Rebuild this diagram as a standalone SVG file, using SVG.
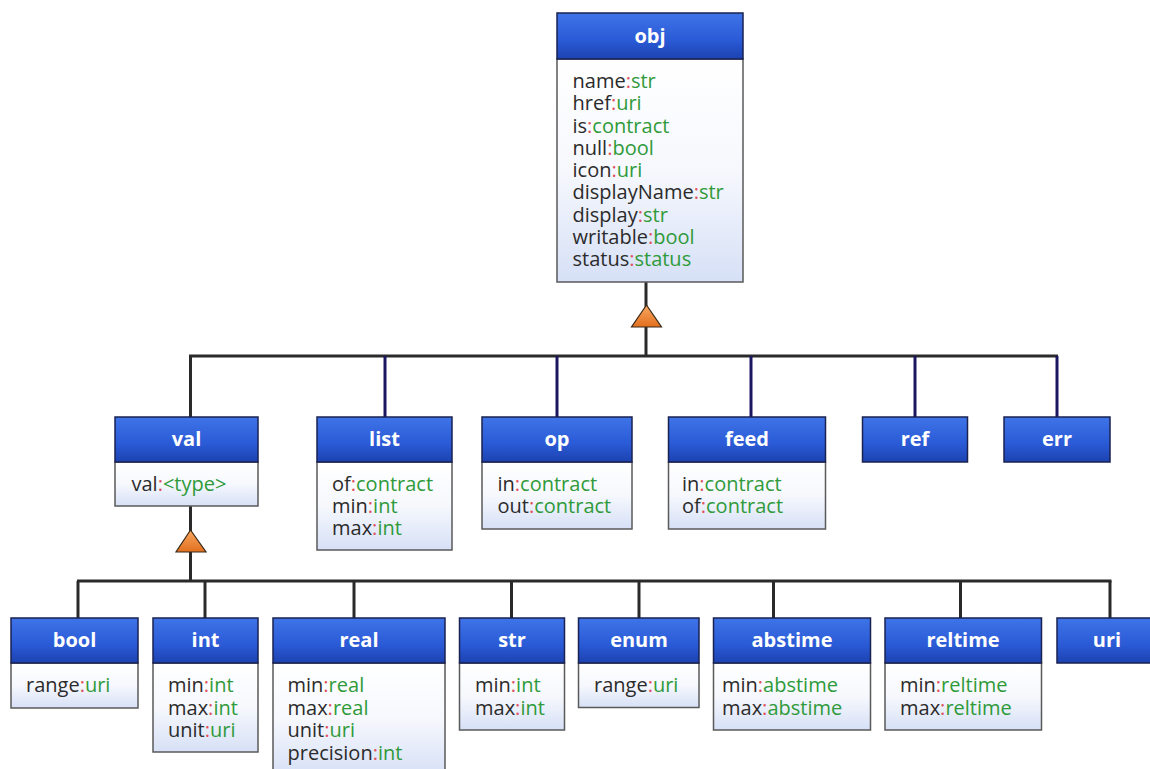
<svg xmlns="http://www.w3.org/2000/svg" width="1150" height="769" viewBox="0 0 1150 769">
<defs>
<linearGradient id="hg" x1="0" y1="0" x2="0" y2="1">
<stop offset="0" stop-color="#3f74e8"/>
<stop offset="0.6" stop-color="#2a5ad6"/>
<stop offset="1" stop-color="#1c42b0"/>
</linearGradient>
<linearGradient id="bg" x1="0" y1="0" x2="0" y2="1">
<stop offset="0" stop-color="#ffffff"/>
<stop offset="0.5" stop-color="#f6f8fd"/>
<stop offset="1" stop-color="#d6e0f6"/>
</linearGradient>
<linearGradient id="tg" x1="0" y1="0" x2="0" y2="1">
<stop offset="0" stop-color="#f9a860"/>
<stop offset="1" stop-color="#e26f1e"/>
</linearGradient>
</defs>
<style>
.hd{fill:url(#hg);stroke:#1a2250;stroke-width:1.5}
.bd{fill:url(#bg);stroke:#5a5a5a;stroke-width:1.5}
.ht{font-family:"Open Sans","DejaVu Sans",sans-serif;font-weight:bold;font-size:20px;fill:#ffffff;text-anchor:middle}
.t{font-family:"Open Sans","DejaVu Sans",sans-serif;font-size:20px;fill:#2b2b2b}
.c{fill:#e0505a}
.g{fill:#2f9a3a}
.ln{stroke:#2a2a2a;stroke-width:3;fill:none}
.nv{stroke:#1c1660;stroke-width:3;fill:none}
.tri{fill:url(#tg);stroke:#3a2a1a;stroke-width:1.2}
</style>
<rect width="1150" height="769" fill="#ffffff"/>

<g id="connectors">
<line class="ln" x1="646" y1="282" x2="646" y2="356"/>
<line class="ln" x1="189" y1="356" x2="1058" y2="356"/>
<line class="ln" x1="190.5" y1="356" x2="190.5" y2="417"/>
<line class="nv" x1="385" y1="356" x2="385" y2="417"/>
<line class="nv" x1="557" y1="356" x2="557" y2="417"/>
<line class="nv" x1="751" y1="356" x2="751" y2="417"/>
<line class="nv" x1="915" y1="356" x2="915" y2="417"/>
<line class="nv" x1="1057" y1="356" x2="1057" y2="417"/>
<polygon class="tri" points="646.5,305 631.5,327 661.5,327"/>
<line class="ln" x1="190.5" y1="506" x2="190.5" y2="581"/>
<line class="ln" x1="77" y1="581" x2="1111.5" y2="581"/>
<line class="ln" x1="78" y1="581" x2="78" y2="618"/>
<line class="ln" x1="205" y1="581" x2="205" y2="618"/>
<line class="ln" x1="354" y1="581" x2="354" y2="618"/>
<line class="ln" x1="511.5" y1="581" x2="511.5" y2="618"/>
<line class="ln" x1="639" y1="581" x2="639" y2="618"/>
<line class="ln" x1="773.5" y1="581" x2="773.5" y2="618"/>
<line class="ln" x1="960.5" y1="581" x2="960.5" y2="618"/>
<line class="ln" x1="1110" y1="581" x2="1110" y2="618"/>
<polygon class="tri" points="190.5,530 176,552 206,552"/>
</g>

<g id="obj">
<rect class="bd" x="557" y="59" width="186" height="223"/>
<rect class="hd" x="557" y="13" width="186" height="46"/>
<text class="ht" x="650" y="43">obj</text>
<text class="t" x="572.5" y="88">name<tspan class="c">:</tspan><tspan class="g">str</tspan></text>
<text class="t" x="572.5" y="110.25">href<tspan class="c">:</tspan><tspan class="g">uri</tspan></text>
<text class="t" x="572.5" y="132.5">is<tspan class="c">:</tspan><tspan class="g">contract</tspan></text>
<text class="t" x="572.5" y="154.75">null<tspan class="c">:</tspan><tspan class="g">bool</tspan></text>
<text class="t" x="572.5" y="177">icon<tspan class="c">:</tspan><tspan class="g">uri</tspan></text>
<text class="t" x="572.5" y="199.25">displayName<tspan class="c">:</tspan><tspan class="g">str</tspan></text>
<text class="t" x="572.5" y="221.5">display<tspan class="c">:</tspan><tspan class="g">str</tspan></text>
<text class="t" x="572.5" y="243.75">writable<tspan class="c">:</tspan><tspan class="g">bool</tspan></text>
<text class="t" x="572.5" y="266">status<tspan class="c">:</tspan><tspan class="g">status</tspan></text>
</g>

<g id="val">
<rect class="bd" x="115" y="462" width="143" height="44"/>
<rect class="hd" x="115" y="417" width="143" height="45"/>
<text class="ht" x="186.5" y="446">val</text>
<text class="t" x="131.5" y="491">val<tspan class="c">:</tspan><tspan class="g">&lt;type&gt;</tspan></text>
</g>

<g id="list">
<rect class="bd" x="317" y="462" width="135" height="88"/>
<rect class="hd" x="317" y="417" width="135" height="45"/>
<text class="ht" x="384.5" y="446">list</text>
<text class="t" x="332" y="491">of<tspan class="c">:</tspan><tspan class="g">contract</tspan></text>
<text class="t" x="332" y="513">min<tspan class="c">:</tspan><tspan class="g">int</tspan></text>
<text class="t" x="332" y="535">max<tspan class="c">:</tspan><tspan class="g">int</tspan></text>
</g>

<g id="op">
<rect class="bd" x="482" y="462" width="150" height="67"/>
<rect class="hd" x="482" y="417" width="150" height="45"/>
<text class="ht" x="557" y="446">op</text>
<text class="t" x="497.5" y="491">in<tspan class="c">:</tspan><tspan class="g">contract</tspan></text>
<text class="t" x="497.5" y="513">out<tspan class="c">:</tspan><tspan class="g">contract</tspan></text>
</g>

<g id="feed">
<rect class="bd" x="668.5" y="462" width="157" height="67"/>
<rect class="hd" x="668.5" y="417" width="157" height="45"/>
<text class="ht" x="747" y="446">feed</text>
<text class="t" x="682" y="491">in<tspan class="c">:</tspan><tspan class="g">contract</tspan></text>
<text class="t" x="682" y="513">of<tspan class="c">:</tspan><tspan class="g">contract</tspan></text>
</g>

<g id="ref">
<rect class="hd" x="862.5" y="417" width="105" height="45"/>
<text class="ht" x="915" y="446">ref</text>
</g>

<g id="err">
<rect class="hd" x="1004" y="417" width="106" height="45"/>
<text class="ht" x="1057" y="446">err</text>
</g>

<g id="bool">
<rect class="bd" x="11" y="663" width="127" height="45"/>
<rect class="hd" x="11" y="618" width="127" height="45"/>
<text class="ht" x="74.5" y="647">bool</text>
<text class="t" x="26" y="692">range<tspan class="c">:</tspan><tspan class="g">uri</tspan></text>
</g>

<g id="int">
<rect class="bd" x="153" y="663" width="105" height="89"/>
<rect class="hd" x="153" y="618" width="105" height="45"/>
<text class="ht" x="205.5" y="647">int</text>
<text class="t" x="168" y="692">min<tspan class="c">:</tspan><tspan class="g">int</tspan></text>
<text class="t" x="168" y="714.5">max<tspan class="c">:</tspan><tspan class="g">int</tspan></text>
<text class="t" x="168" y="737">unit<tspan class="c">:</tspan><tspan class="g">uri</tspan></text>
</g>

<g id="real">
<rect class="bd" x="273" y="663" width="172" height="112"/>
<rect class="hd" x="273" y="618" width="172" height="45"/>
<text class="ht" x="359" y="647">real</text>
<text class="t" x="287.5" y="692">min<tspan class="c">:</tspan><tspan class="g">real</tspan></text>
<text class="t" x="287.5" y="714.5">max<tspan class="c">:</tspan><tspan class="g">real</tspan></text>
<text class="t" x="287.5" y="737">unit<tspan class="c">:</tspan><tspan class="g">uri</tspan></text>
<text class="t" x="287.5" y="759.5">precision<tspan class="c">:</tspan><tspan class="g">int</tspan></text>
</g>

<g id="str">
<rect class="bd" x="459.5" y="663" width="105" height="67"/>
<rect class="hd" x="459.5" y="618" width="105" height="45"/>
<text class="ht" x="512" y="647">str</text>
<text class="t" x="475" y="692">min<tspan class="c">:</tspan><tspan class="g">int</tspan></text>
<text class="t" x="475" y="714.5">max<tspan class="c">:</tspan><tspan class="g">int</tspan></text>
</g>

<g id="enum">
<rect class="bd" x="578.5" y="663" width="120.5" height="44.5"/>
<rect class="hd" x="578.5" y="618" width="120.5" height="45"/>
<text class="ht" x="639" y="647">enum</text>
<text class="t" x="594" y="692">range<tspan class="c">:</tspan><tspan class="g">uri</tspan></text>
</g>

<g id="abstime">
<rect class="bd" x="713.5" y="663" width="157" height="67"/>
<rect class="hd" x="713.5" y="618" width="157" height="45"/>
<text class="ht" x="792" y="647">abstime</text>
<text class="t" x="722" y="692">min<tspan class="c">:</tspan><tspan class="g">abstime</tspan></text>
<text class="t" x="722" y="714.5">max<tspan class="c">:</tspan><tspan class="g">abstime</tspan></text>
</g>

<g id="reltime">
<rect class="bd" x="885" y="663" width="156.5" height="67"/>
<rect class="hd" x="885" y="618" width="156.5" height="45"/>
<text class="ht" x="963" y="647">reltime</text>
<text class="t" x="900" y="692">min<tspan class="c">:</tspan><tspan class="g">reltime</tspan></text>
<text class="t" x="900" y="714.5">max<tspan class="c">:</tspan><tspan class="g">reltime</tspan></text>
</g>

<g id="uri">
<rect class="hd" x="1057" y="618" width="106" height="45"/>
<text class="ht" x="1107" y="647">uri</text>
</g>
</svg>
